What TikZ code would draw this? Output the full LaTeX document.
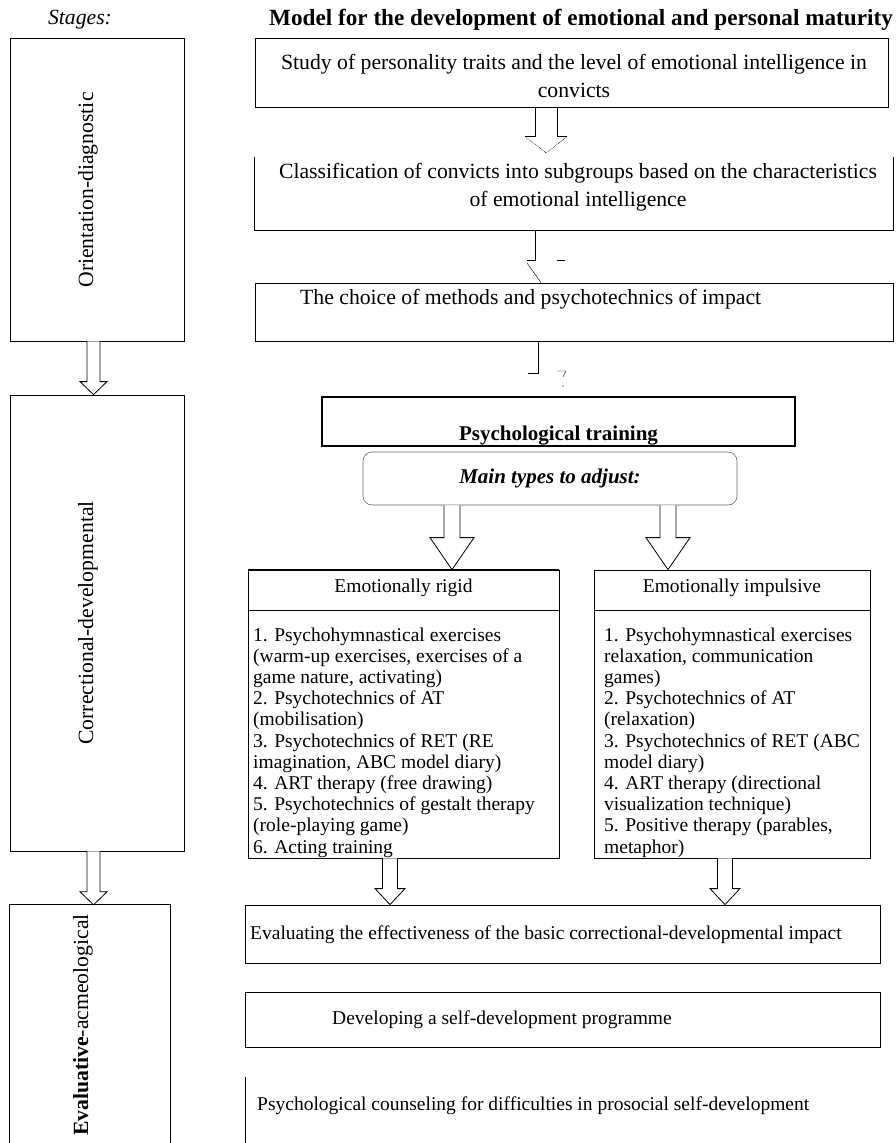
\documentclass[tikz,border=0pt]{standalone}
\usepackage{fontspec}
\setmainfont{Liberation Serif}
\usetikzlibrary{calc,fit}
\newcommand\szBig{\fontsize{21.7}{28}\selectfont}
\newcommand\szSm{\fontsize{19.5}{21.2}\selectfont}
\newcommand\szTitle{\fontsize{23.2}{26}\selectfont}
% hollow arrow: [opts]{start}{end}{shaft half}{head half}{head length}
\newcommand\harr[6][]{\draw[harrline,#1] let \p1=(#2), \p2=(#3) in
  (\x1-#4pt,\y1) -- (\x1-#4pt,\y2+#6pt) -- (\x1-#5pt,\y2+#6pt) -- (\x1,\y2)
  -- (\x1+#5pt,\y2+#6pt) -- (\x1+#4pt,\y2+#6pt) -- (\x1+#4pt,\y1);}
\begin{document}
\begin{tikzpicture}[x=1pt,y=-1pt,
  frame/.style={draw=black, line width=0.8pt, inner sep=0pt},
  ghost/.style={inner sep=0pt},
  harrline/.style={draw=black, line width=0.8pt, fill=white},
  frag/.style={draw=black, line width=0.6pt},
  txt/.style={inner sep=0pt, font=\szBig},
  stxt/.style={inner sep=0pt, font=\szSm}]
\useasboundingbox (0,0) rectangle (895,1143);

% ---------- left column ----------
\node[txt, font=\szBig\itshape] (stages) at (80,20) {Stages:};
\node[frame, fit={(10,38) (184,341)}] (L1) {};
\node[frame, fit={(10,395) (184,851)}] (L2) {};
\node[ghost, fit={(10,905) (170,1143)}] (L3) {};
\draw[line width=0.8pt] (L3.south west) -- (L3.north west) -- (L3.north east) -- (L3.south east);
\node[txt, rotate=90] (l1t) at (88,190) {Orientation-diagnostic};
\node[txt, rotate=90] (l2t) at (88,623) {Correctional-developmental};
\node[txt, rotate=90] (l3t) at (83,1025) {\textbf{Evaluative}-acmeological};
\coordinate (xl) at (93.5,0);
\harr{L1.south -| xl}{L2.north -| xl}{6.5}{13.5}{13}
\harr{L2.south -| xl}{L3.north -| xl}{6.5}{13.5}{13}

% ---------- right column ----------
\node[font=\szTitle\bfseries, inner sep=0pt] (title) at (581,20) {Model for the development of emotional and personal maturity};

\node[frame, line width=1pt, fit={(255,38) (888,107)}] (B1) {};
\node[txt, align=center, anchor=base] (B1t) at (574,97) {Study of personality traits and the level of emotional intelligence in\\convicts};

\node[ghost, fit={(255,157) (893,230)}] (B2) {};
\draw[line width=0.8pt] (B2.north west) -- (B2.south west) -- (B2.south east) -- (B2.north east);
\node[txt, align=center, anchor=base] (B2t) at (578,206) {Classification of convicts into subgroups based on the characteristics\\of emotional intelligence};

\node[frame, fit={(255,283) (893,341)}] (B3) {};
\node[txt, anchor=base west] (B3t) at (300,304) {The choice of methods and psychotechnics of impact};

% arrow 1 (partially dotted head)
\coordinate (xa1) at (546,0);
\draw[frag, line width=0.8pt] let \p1=(B1.south -| xa1), \p2=(B2.north -| xa1) in
  (\x1-11pt,\y1) -- (\x1-11pt,\y2+20pt) -- (\x1-21pt,\y2+20pt)
  (\x1+11pt,\y1) -- (\x1+11pt,\y2+20pt) -- (\x1+21pt,\y2+20pt);
\draw[frag, densely dotted] let \p1=(B1.south -| xa1), \p2=(B2.north -| xa1) in
  (\x1-21pt,\y2+20pt) -- (\x1,\y2+4pt) -- (\x1+21pt,\y2+20pt);

% connector 2 (broken)
\coordinate (xa2) at (535,0);
\coordinate (k2) at (535,260);
\draw[frag] (B2.south -| xa2) -- (k2) -- ++(-8,0);
\draw[frag, line width=0.4pt] (527,263) -- (B3.north -| 541,0);
\draw[frag] (557,260) -- (565,260);

% connector 3 (broken)
\coordinate (xa3) at (538,0);
\coordinate (k3) at (538,373);
\draw[frag] (B3.south -| xa3) -- (k3) -- ++(-10,0);
\draw[frag, line width=0.4pt] (557,371) -- (566,371) -- (563,377);
\fill (563,386) circle (0.6);

% psychological training
\node[frame, line width=1.2pt, fit={(322,397) (795,446)}] (PT) {};
\node[inner sep=0pt, font=\fontsize{21}{24}\selectfont\bfseries, anchor=base] (PTt) at (PT.center |- 0,440) {Psychological training};
\node[draw=black!60, line width=0.6pt, rounded corners=9pt, inner sep=0pt, fit={(363,452) (737,505)}] (MT) {};
\node[inner sep=0pt, font=\fontsize{21}{24}\selectfont\bfseries\itshape] (MTt) at (MT.center) {Main types to adjust:};

% type boxes
\node[frame, fit={(248,570) (559,858)}] (R) {};
\draw[line width=1.4pt] (R.north west) -- (R.north east);
\draw[line width=0.8pt] (248,610) coordinate (rd1) -- (559,610) coordinate (rd2);
\node[stxt] (Rh) at (403.5,588) {Emotionally rigid};
\node[stxt, align=left, anchor=base west] (Rl) at (253,853) {1. Psychohymnastical exercises\\(warm-up exercises, exercises of a\\game nature, activating)\\2. Psychotechnics of AT\\(mobilisation)\\3. Psychotechnics of RET (RE\\imagination, ABC model diary)\\4. ART therapy (free drawing)\\5. Psychotechnics of gestalt therapy\\(role-playing game)\\6. Acting training};

\node[frame, fit={(594,570) (870,858)}] (I) {};
\draw[line width=0.8pt] (594,610) coordinate (id1) -- (870,610) coordinate (id2);
\node[stxt] (Ih) at (732,588) {Emotionally impulsive};
\node[stxt, align=left, anchor=base west] (Il) at (604,853) {1. Psychohymnastical exercises\\relaxation, communication\\games)\\2. Psychotechnics of AT\\(relaxation)\\3. Psychotechnics of RET (ABC\\model diary)\\4. ART therapy (directional\\visualization technique)\\5. Positive therapy (parables,\\metaphor)};

\coordinate (xm1) at (452,0);
\coordinate (xm2) at (668,0);
\harr{MT.south -| xm1}{R.north -| xm1}{8}{22}{32}
\harr{MT.south -| xm2}{I.north -| xm2}{8}{22}{32}

% evaluative stage
\node[frame, fit={(245,905) (880,963)}] (E) {};
\node[stxt, anchor=base west] (Et) at (250,939) {Evaluating the effectiveness of the basic correctional-developmental impact};
\node[frame, fit={(245,992) (880,1047)}] (D) {};
\node[stxt, anchor=base west] (Dt) at (332,1024) {Developing a self-development programme};
\node[ghost, fit={(245,1077) (880,1143)}] (C) {};
\draw[line width=0.6pt] (C.north west) -- (C.south west);
\node[stxt, anchor=base west] (Ct) at (257,1110) {Psychological counseling for difficulties in prosocial self-development};

\coordinate (xe1) at (390,0);
\coordinate (xe2) at (725,0);
\harr{R.south -| xe1}{E.north -| xe1}{7.5}{15}{16}
\harr{I.south -| xe2}{E.north -| xe2}{7.5}{15}{16}
\end{tikzpicture}
\end{document}
